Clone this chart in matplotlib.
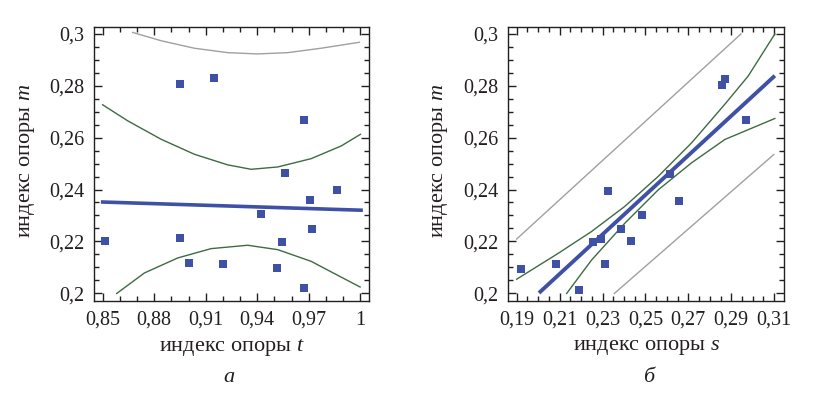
import matplotlib
matplotlib.use("Agg")
import matplotlib.pyplot as plt
from matplotlib.ticker import FixedLocator, FuncFormatter

plt.rcParams['font.family'] = ['Liberation Serif', 'DejaVu Serif']
plt.rcParams['mathtext.fontset'] = 'custom'
plt.rcParams['mathtext.it'] = 'Liberation Serif:italic'
plt.rcParams['mathtext.rm'] = 'Liberation Serif'

# индекс опоры m (общий для обеих панелей)
m_a = [0.2201, 0.2806, 0.2829, 0.2212, 0.2116, 0.2112, 0.2305, 0.2096,
       0.2197, 0.2463, 0.2667, 0.2019, 0.2359, 0.2247, 0.2397]
t_a = [0.8515, 0.8953, 0.9150, 0.8953, 0.9000, 0.9203, 0.9420, 0.9512,
       0.9541, 0.9559, 0.9670, 0.9670, 0.9705, 0.9717, 0.9862]

m_b = [0.2093, 0.2112, 0.2014, 0.2197, 0.2208, 0.2112, 0.2393, 0.2247,
       0.2201, 0.2301, 0.2459, 0.2355, 0.2802, 0.2825, 0.2667]
s_b = [0.1921, 0.2084, 0.2192, 0.2257, 0.2293, 0.2313, 0.2327, 0.2387,
       0.2434, 0.2485, 0.2616, 0.2657, 0.2858, 0.2872, 0.2969]

# линия регрессии и доверительные полосы
fit_a_x = [0.849, 1.0014]
fit_a_y = [0.2352, 0.2320]
gray_a_x = [0.8675, 0.884, 0.9034, 0.9228, 0.9402, 0.9577, 0.9771, 0.9994]
gray_a_y = [0.3006, 0.2974, 0.2945, 0.2928, 0.2923, 0.2928, 0.2945, 0.2968]
gup_a_x = [0.85, 0.8646, 0.884, 0.9034, 0.9228, 0.9364, 0.9519, 0.9713, 0.9888, 1.0]
gup_a_y = [0.2727, 0.2665, 0.2594, 0.2536, 0.2495, 0.2478, 0.2487, 0.2519, 0.2568, 0.2613]
glo_a_x = [0.8582, 0.8743, 0.8937, 0.9131, 0.9344, 0.9519, 0.9713, 0.9868, 0.9998]
glo_a_y = [0.1999, 0.2078, 0.2136, 0.2172, 0.2185, 0.2168, 0.2123, 0.2069, 0.2024]

fit_b_x = [0.2004, 0.3103]
fit_b_y = [0.2001, 0.2839]
gray_up_b_x = [0.19, 0.2945]
gray_up_b_y = [0.2209, 0.3000]
gray_lo_b_x = [0.2355, 0.3098]
gray_lo_b_y = [0.1999, 0.2535]
gup_b_x = [0.19, 0.2094, 0.2249, 0.2404, 0.256, 0.2715, 0.287, 0.2979, 0.3103]
gup_b_y = [0.2054, 0.2154, 0.2238, 0.2335, 0.2451, 0.2580, 0.2729, 0.2838, 0.3000]
glo_b_x = [0.2133, 0.2249, 0.2404, 0.256, 0.2715, 0.287, 0.3103]
glo_b_y = [0.1999, 0.2128, 0.2270, 0.2399, 0.2503, 0.2593, 0.2674]

yticks = [0.2, 0.22, 0.24, 0.26, 0.28, 0.3]
yminor = [0.2 + 0.005 * i for i in range(21)]
xticks_a = [0.85, 0.88, 0.91, 0.94, 0.97, 1.0]
xminor_a = [0.85 + 0.01 * i for i in range(16)]
xticks_b = [0.19, 0.21, 0.23, 0.25, 0.27, 0.29, 0.31]
xminor_b = [0.19 + 0.005 * i for i in range(25)]

blue = '#3f51a5'
green = '#3d6b42'
gray = '#a0a0a0'
txt = '#231f20'

fig = plt.figure(figsize=(8.21, 3.95), dpi=100)
ax1 = fig.add_axes([0.1145, 0.238, 0.335, 0.6937])
ax2 = fig.add_axes([0.6191, 0.238, 0.3362, 0.6937])


def comma(v, pos):
    s = ('%.2f' % v).rstrip('0').rstrip('.')
    return s.replace('.', ',')


for ax in (ax1, ax2):
    ax.set_ylim(0.197, 0.3027)
    ax.yaxis.set_major_locator(FixedLocator(yticks))
    ax.yaxis.set_minor_locator(FixedLocator(yminor))
    ax.xaxis.set_major_formatter(FuncFormatter(comma))
    ax.yaxis.set_major_formatter(FuncFormatter(comma))
    ax.tick_params(which='both', direction='in', top=True, right=True,
                   width=1, colors=txt, labelsize=14.5, labelcolor=txt)
    ax.tick_params(which='major', length=6, pad=7)
    ax.tick_params(which='minor', length=3.5)
    for sp in ax.spines.values():
        sp.set_linewidth(1)
        sp.set_color(txt)
    ax.set_ylabel(r'индекс опоры $m$', fontsize=16, color=txt, va='center')

ax1.set_xlim(0.845, 1.005)
ax1.xaxis.set_major_locator(FixedLocator(xticks_a))
ax1.xaxis.set_minor_locator(FixedLocator(xminor_a))
ax1.plot(gray_a_x, gray_a_y, color=gray, lw=1)
ax1.plot(gup_a_x, gup_a_y, color=green, lw=1)
ax1.plot(glo_a_x, glo_a_y, color=green, lw=1)
ax1.plot(fit_a_x, fit_a_y, color=blue, lw=2.6, solid_capstyle='butt')
ax1.plot(t_a, m_a, 's', color=blue, ms=5.5, mew=0)
ax1.set_xlabel(r'индекс опоры $t$', fontsize=16, color=txt, va='center')
ax1.yaxis.set_label_coords(-0.24, 0.51)
ax1.xaxis.set_label_coords(0.5, -0.168)

ax2.set_xlim(0.1861, 0.3147)
ax2.xaxis.set_major_locator(FixedLocator(xticks_b))
ax2.xaxis.set_minor_locator(FixedLocator(xminor_b))
ax2.plot(gray_up_b_x, gray_up_b_y, color=gray, lw=1)
ax2.plot(gray_lo_b_x, gray_lo_b_y, color=gray, lw=1)
ax2.plot(gup_b_x, gup_b_y, color=green, lw=1)
ax2.plot(glo_b_x, glo_b_y, color=green, lw=1)
ax2.plot(fit_b_x, fit_b_y, color=blue, lw=2.8, solid_capstyle='butt')
ax2.plot(s_b, m_b, 's', color=blue, ms=5.5, mew=0)
ax2.set_xlabel(r'индекс опоры $s$', fontsize=16, color=txt, va='center')
ax2.yaxis.set_label_coords(-0.245, 0.51)
ax2.xaxis.set_label_coords(0.5, -0.168)

fig.text(229 / 821, 1 - 378 / 395, 'а', fontsize=16, style='italic',
         ha='center', va='center', color=txt)
fig.text(649 / 821, 1 - 378 / 395, 'б', fontsize=16, style='italic',
         ha='center', va='center', color=txt)

fig.savefig('out.png', dpi=100)
